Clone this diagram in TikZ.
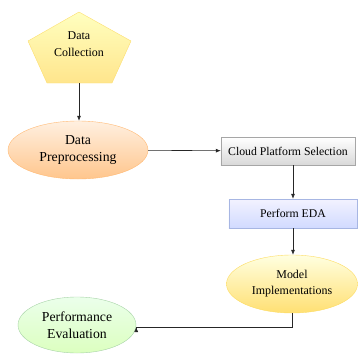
\documentclass[tikz,border=0pt]{standalone}
\usepackage{fontspec}
\setmainfont{Liberation Serif}
\usetikzlibrary{arrows.meta, positioning, shapes.geometric}

\begin{document}
\begin{tikzpicture}[
    x=1bp, y=-1bp,
    every node/.style={font=\fontsize{11.8}{14}\selectfont},
    oval/.style={ellipse,draw,inner sep=0pt,align=center,font=\fontsize{13.8}{17}\selectfont},
    box/.style={rectangle,draw,inner sep=0pt,align=center,minimum height=28bp},
    arrow/.style={-{Latex[length=5bp,width=4bp]}, semithick, black!85}
]
\useasboundingbox (0,0) rectangle (358,354);

% pentagon
\shade[top color=yellow!25!white, bottom color=yellow!55!orange!45!white, draw=yellow!60!orange!55!white]
    (79,12) -- (131,41) -- (112,83) -- (47,83) -- (28,41) -- cycle;
\node[align=center, font=\fontsize{12}{17}\selectfont] (collect) at (79,44) {Data\\Collection};
\coordinate (collectbot) at (79,83);

\node[oval, top color=orange!12!white, bottom color=orange!45!white, draw=orange!55!white,
    minimum width=140bp, minimum height=58bp] (prep) at (78,150) {Data\\Preprocessing};
\node[box, top color=white, bottom color=black!15, draw=black!35,
    minimum width=134bp] (cloud) at (288,151) {Cloud Platform Selection};
\node[box, top color=blue!5!white, bottom color=cyan!20!blue!18!white, draw=cyan!40!blue!35!white,
    minimum width=128bp, minimum height=29bp] (eda) at (293,213.5) {Perform EDA};
\node[oval, font=\fontsize{12}{16}\selectfont, top color=yellow!12!white, bottom color=yellow!55!orange!55!white, draw=yellow!60!orange!60!white,
    minimum width=131bp, minimum height=58bp] (model) at (292,284) {Model\\Implementations};
\node[oval, top color=green!8!white, bottom color=green!40!lime!25!white, draw=green!50!black!35!white,
    minimum width=118bp, minimum height=56bp] (perf) at (77,325) {Performance\\Evaluation};

\draw[arrow] (collectbot) -- (collectbot |- prep.north);
\draw[arrow] (prep) -- (cloud);
\draw[arrow] (cloud.south -| eda) -- (eda);
\draw[arrow] (eda.south) -- (eda.south |- model.north);
\draw[arrow] (model.south) -- ++(0,14) -| (perf.east |- 0,327);

\end{tikzpicture}
\end{document}
